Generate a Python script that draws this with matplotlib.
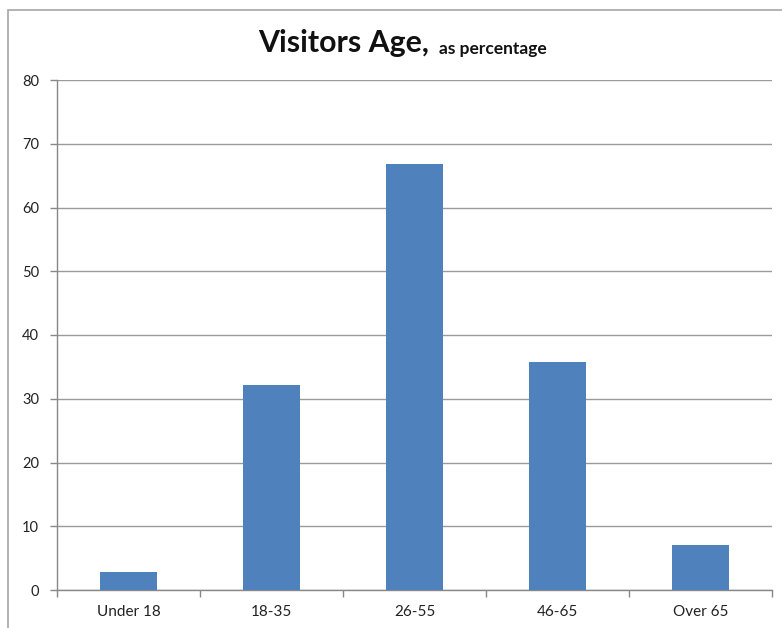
import matplotlib
matplotlib.use("Agg")
import matplotlib.pyplot as plt
from matplotlib.patches import Rectangle

categories = ["Under 18", "18-35", "26-55", "46-65", "Over 65"]
values = [2.9, 32.1, 66.8, 35.8, 7.05]
yticks = [0, 10, 20, 30, 40, 50, 60, 70, 80]

plt.rcParams['font.family'] = ['Lato', 'DejaVu Sans']

W, H = 782, 628
fig = plt.figure(figsize=(W / 100, H / 100), dpi=100)
fig.patch.set_facecolor('white')

# outer chart border
fig.add_artist(Rectangle((8 / W, -0.01), 1.0, (H - 10) / H + 0.01,
                         transform=fig.transFigure, fill=False,
                         edgecolor='#a6a6a6', linewidth=1.2))

ax = fig.add_axes([57 / W, (H - 590) / H, (772 - 57) / W, (590 - 80) / H])
x = list(range(len(categories)))
ax.bar(x, values, width=0.4, color='#4f81bd', zorder=3)

ax.set_xlim(-0.5, len(categories) - 0.5)
ax.set_ylim(0, 80)
ax.set_yticks(yticks)
ax.set_yticklabels([str(t) for t in yticks], fontsize=10.5, color='#222222')
ax.set_xticks(x)
ax.set_xticklabels(categories, fontsize=11, color='#222222')
ax.tick_params(axis='x', length=0, pad=11)
ax.tick_params(axis='y', length=5, width=1, color='#888888', pad=8)
ax.set_xticks([i - 0.5 for i in range(len(categories) + 1)], minor=True)
ax.tick_params(axis='x', which='minor', length=5, width=1, color='#888888')

ax.grid(axis='y', color='#9a9a9a', linewidth=1, zorder=0)
for s in ['top', 'right']:
    ax.spines[s].set_visible(False)
for s in ['left', 'bottom']:
    ax.spines[s].set_color('#888888')
    ax.spines[s].set_linewidth(1)

t1 = fig.text(258 / W, (H - 52) / H, "Visitors Age,", fontsize=21.8,
              fontweight='bold', ha='left', va='baseline', color='#111111')
ax.annotate("as percentage", xy=(1, 0), xycoords=t1, xytext=(7, 0),
            textcoords='offset points', fontsize=12.5, fontweight='bold',
            ha='left', va='bottom', color='#111111')

fig.savefig("out.png", dpi=100)
